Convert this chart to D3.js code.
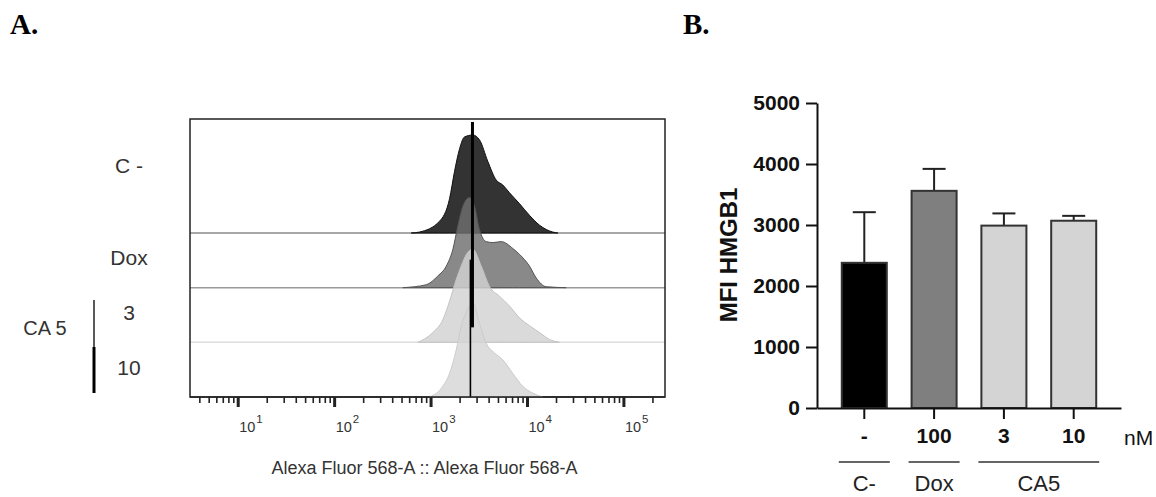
<!DOCTYPE html>
<html>
<head>
<meta charset="utf-8">
<title>HMGB1 exposure</title>
<style>
  body { margin: 0; background: #fff; }
  svg text { font-family: "Liberation Sans", Arial, sans-serif; }
  .panel-tag { font-family: "Liberation Serif", "Times New Roman", serif; font-weight: bold; font-size: 29px; fill: #000; }
  .hist-axis path, .hist-axis line { stroke: #222; }
  .bar-axis path, .bar-axis line { stroke: #111; stroke-width: 2; }
  .bar-axis text { font-weight: bold; font-size: 21px; fill: #111; }
</style>
</head>
<body>
<svg id="fig" width="1156" height="497"></svg>
<script src="https://d3js.org/d3.v7.min.js"></script>
<script>
// ---------- data, panel A (offset histograms) ----------
// each point: [log10 fluorescence, % of mode]
const samples = ["C -", "Dox", "3", "10"];
const histCneg = [[2.80,0],[2.886,1],[3.093,12],[3.197,35],[3.249,63],[3.301,86],[3.352,98],[3.438,100],[3.508,95],[3.594,73],[3.681,54],[3.749,49],[3.819,41],[3.922,30],[4.026,18],[4.130,8],[4.267,1],[4.32,0]];
const histDox = [[2.713,0],[2.955,3],[3.076,12],[3.163,22],[3.231,39],[3.283,63],[3.335,83],[3.404,92],[3.456,83],[3.508,59],[3.577,47],[3.646,46],[3.733,47],[3.853,40],[3.922,34],[4.026,22],[4.095,10],[4.199,1],[4.406,0]];
const histCA3 = [[2.868,0],[3.024,10],[3.127,23],[3.197,42],[3.266,64],[3.318,78],[3.373,90],[3.438,95],[3.525,78],[3.611,57],[3.715,47],[3.819,37],[3.922,25],[4.026,17],[4.130,10],[4.233,3],[4.337,0]];
const histCA10 = [[2.990,0],[3.127,11],[3.197,24],[3.266,48],[3.318,72],[3.373,87],[3.438,96],[3.508,75],[3.577,55],[3.663,45],[3.749,38],[3.853,24],[3.956,11],[4.060,4],[4.161,0]];
const histograms = [histCneg, histDox, histCA3, histCA10];
const histFill = ["#333333", "#6f6f6f", "#d2d2d2", "#d6d6d6"];
const histLine = ["#111111", "#555555", "#c4c4c4", "#cccccc"];
const baseLine = ["#8a8a8a", "#9a9a9a", "#dddddd", "#222222"];
const markerValues = [2720, 2590];
const decades = [1, 2, 3, 4, 5];

// ---------- data, panel B (bar chart) ----------
const groups = ["C-", "Dox", "CA5 3", "CA5 10"];
const doseLabels = ["-", "100", "3", "10"];
const mfi = [2380, 3560, 2990, 3070];
const mfiSD = [830, 360, 200, 80];
const barFill = ["#000000", "#7f7f7f", "#d4d4d4", "#d4d4d4"];
const yTicks = [0, 1000, 2000, 3000, 4000, 5000];
const treatments = [
  { name: "C-", first: "C-", last: "C-" },
  { name: "Dox", first: "Dox", last: "Dox" },
  { name: "CA5", first: "CA5 3", last: "CA5 10" }
];

const svg = d3.select("#fig");

// panel tags
svg.append("text").attr("class", "panel-tag").attr("x", 10).attr("y", 34).text("A.");
svg.append("text").attr("class", "panel-tag").attr("x", 683).attr("y", 34).text("B.");

// ================= Panel A =================
const frame = { left: 190, right: 665, top: 119, bottom: 397 };

const xA = d3.scaleLog()
  .domain([3.2, 2.7e5])
  .range([frame.left, frame.right]);

// baseline of each stacked histogram
const rowY = d3.scalePoint()
  .domain(samples)
  .range([233, frame.bottom]);

const hA = d3.scaleLinear().domain([0, 100]).range([0, 98]);

const gA = svg.append("g");

samples.forEach((s, i) => {
  const base = rowY(s);
  // zero line of the histogram across the plot
  gA.append("line")
    .attr("x1", frame.left).attr("x2", frame.right)
    .attr("y1", base).attr("y2", base)
    .attr("stroke", baseLine[i]).attr("stroke-width", 1.5);

  const area = d3.area()
    .x(d => xA(10 ** d[0]))
    .y0(base)
    .y1(d => base - hA(d[1]))
    .curve(d3.curveMonotoneX);

  gA.append("path")
    .datum(histograms[i])
    .attr("d", area)
    .attr("fill", histFill[i])
    .attr("fill-opacity", i === 0 ? 1 : 0.82)
    .attr("stroke", histLine[i])
    .attr("stroke-width", 1);
});

// median markers
gA.append("line")
  .attr("x1", xA(markerValues[0])).attr("x2", xA(markerValues[0]))
  .attr("y1", frame.top + 3).attr("y2", rowY("3") - 15)
  .attr("stroke", "#000").attr("stroke-width", 3);
gA.append("line")
  .attr("x1", xA(markerValues[1])).attr("x2", xA(markerValues[1]))
  .attr("y1", rowY("Dox") - 28).attr("y2", frame.bottom)
  .attr("stroke", "#000").attr("stroke-width", 1.6);

// frame
gA.append("rect")
  .attr("x", frame.left).attr("y", frame.top)
  .attr("width", frame.right - frame.left)
  .attr("height", frame.bottom - frame.top)
  .attr("fill", "none").attr("stroke", "#222").attr("stroke-width", 1.5);

// log axis: minor ticks, then major decades
const minorTicks = xA.ticks().filter(t => !decades.some(d => Math.abs(t - 10 ** d) < 1e-6 * t));
const minor = gA.append("g")
  .attr("class", "hist-axis")
  .attr("transform", `translate(0,${frame.bottom})`)
  .call(d3.axisBottom(xA).tickValues(minorTicks).tickSize(6).tickSizeOuter(0).tickFormat(""))
  .call(g => g.select(".domain").remove());
minor.selectAll("line").attr("stroke-width", 1.6);

const major = gA.append("g")
  .attr("class", "hist-axis")
  .attr("transform", `translate(0,${frame.bottom})`)
  .call(d3.axisBottom(xA).tickValues(decades.map(d => 10 ** d)).tickSize(10).tickSizeOuter(0).tickFormat(""))
  .call(g => g.select(".domain").remove());
major.selectAll("line").attr("stroke-width", 3);

decades.forEach(d => {
  const t = gA.append("text")
    .attr("x", xA(10 ** d) + 1.5)
    .attr("y", 432)
    .attr("font-size", 14.5)
    .attr("fill", "#333");
  t.append("tspan").text("10");
  t.append("tspan").attr("font-size", 11.5).attr("dy", -9).attr("dx", 1).text(d);
});

gA.append("text")
  .attr("x", (frame.left + frame.right) / 2 - 3)
  .attr("y", 474)
  .attr("text-anchor", "middle")
  .attr("font-size", 18)
  .attr("fill", "#333")
  .text("Alexa Fluor 568-A :: Alexa Fluor 568-A");

// row labels
samples.forEach((s, i) => {
  const yc = i === 0 ? (frame.top + rowY(s)) / 2 - 11 : rowY(s) - 30;
  gA.append("text")
    .attr("x", 129).attr("y", yc)
    .attr("dy", "0.36em")
    .attr("text-anchor", "middle")
    .attr("font-size", 21)
    .attr("fill", "#333")
    .text(s);
});

// CA 5 bracket
gA.append("line").attr("x1", 94).attr("x2", 94).attr("y1", 300).attr("y2", 348)
  .attr("stroke", "#222").attr("stroke-width", 1.5);
gA.append("line").attr("x1", 94).attr("x2", 94).attr("y1", 347).attr("y2", 393)
  .attr("stroke", "#000").attr("stroke-width", 3);
gA.append("text")
  .attr("x", 45).attr("y", 328).attr("dy", "0.36em")
  .attr("text-anchor", "middle")
  .attr("font-size", 20).attr("fill", "#333")
  .text("CA 5");

// ================= Panel B =================
const xB = d3.scaleBand()
  .domain(groups)
  .range([817, 1121])
  .padding(0.355);

const yB = d3.scaleLinear()
  .domain([0, 5000])
  .range([408, 103]);

const gB = svg.append("g");

// error bars (upper only)
groups.forEach((g, i) => {
  const cx = xB(g) + xB.bandwidth() / 2;
  gB.append("line")
    .attr("x1", cx).attr("x2", cx)
    .attr("y1", yB(mfi[i])).attr("y2", yB(mfi[i] + mfiSD[i]))
    .attr("stroke", "#222").attr("stroke-width", 2);
  gB.append("line")
    .attr("x1", cx - 11.5).attr("x2", cx + 11.5)
    .attr("y1", yB(mfi[i] + mfiSD[i])).attr("y2", yB(mfi[i] + mfiSD[i]))
    .attr("stroke", "#222").attr("stroke-width", 2);
});

// bars
gB.selectAll(".bar")
  .data(groups)
  .enter().append("rect")
  .attr("class", "bar")
  .attr("x", d => xB(d))
  .attr("y", (d, i) => yB(mfi[i]))
  .attr("width", xB.bandwidth())
  .attr("height", (d, i) => yB(0) - yB(mfi[i]))
  .attr("fill", (d, i) => barFill[i])
  .attr("stroke", "#333")
  .attr("stroke-width", 2);

// y axis
gB.append("g")
  .attr("class", "bar-axis")
  .attr("transform", "translate(817,0)")
  .call(d3.axisLeft(yB).tickValues(yTicks).tickFormat(d3.format("d"))
    .tickSize(11).tickSizeOuter(0).tickPadding(6));

// x axis with dose labels
const xAxisB = gB.append("g")
  .attr("class", "bar-axis")
  .attr("transform", "translate(0,408)")
  .call(d3.axisBottom(xB).tickSize(11).tickSizeOuter(0).tickPadding(9)
    .tickFormat((d, i) => doseLabels[i]));
xAxisB.selectAll("text").attr("font-size", 20);

gB.append("text")
  .attr("x", 1124).attr("y", 437).attr("dy", "0.36em")
  .attr("font-size", 21).attr("fill", "#111")
  .text("nM");

// y title
gB.append("text")
  .attr("transform", "translate(728,255) rotate(-90)")
  .attr("dy", "0.36em")
  .attr("text-anchor", "middle")
  .attr("font-size", 24).attr("font-weight", "bold").attr("fill", "#111")
  .text("MFI HMGB1");

// treatment group lines and names
treatments.forEach(t => {
  const x0 = xB(t.first) - 3;
  const x1 = xB(t.last) + xB.bandwidth() + 3;
  gB.append("line")
    .attr("x1", x0).attr("x2", x1).attr("y1", 462).attr("y2", 462)
    .attr("stroke", "#333").attr("stroke-width", 1.5);
  gB.append("text")
    .attr("x", (x0 + x1) / 2).attr("y", 491)
    .attr("text-anchor", "middle")
    .attr("font-size", 22).attr("fill", "#222")
    .text(t.name);
});
</script>
</body>
</html>
